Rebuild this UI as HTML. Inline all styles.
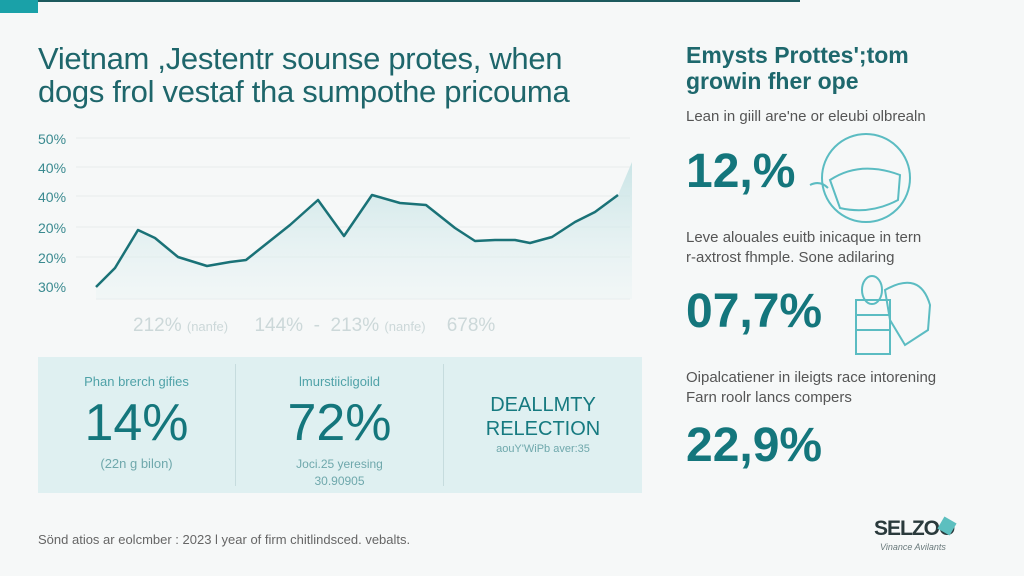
<!DOCTYPE html>
<html><head><style>
body{margin:0;width:1024px;height:576px;background:#f6f8f8;position:relative;overflow:hidden;font-family:"Liberation Sans",sans-serif}
.a{position:absolute;white-space:nowrap}
.t{color:#1e666b;font-size:31px;line-height:38px;letter-spacing:-0.3px}
.y{color:#3a8a90;font-size:14px}
.big{color:#14767c;font-weight:bold}
.g{color:#555;font-size:15px}
</style></head><body>
<div class="a" style="left:0;top:0;width:800px;height:2px;background:#1d5a5e"></div>
<div class="a" style="left:0;top:0;width:38px;height:13px;background:#1aa1a8"></div>
<div class="a t" style="left:38px;top:40px">Vietnam ,Jestentr sounse protes, when</div>
<div class="a t" style="left:38px;top:73px">dogs frol vestaf tha sumpothe pricouma</div>
<svg class="a" style="left:0;top:0" width="660" height="340">
<defs><linearGradient id="f" x1="0" y1="0" x2="0" y2="1"><stop offset="0" stop-color="#bfe0e2" stop-opacity=".8"/><stop offset="1" stop-color="#e6f2f3" stop-opacity=".3"/></linearGradient></defs>
<g stroke="#e8eded" stroke-width="1">
<line x1="76" y1="138" x2="630" y2="138"/><line x1="76" y1="167" x2="630" y2="167"/><line x1="76" y1="196" x2="630" y2="196"/><line x1="76" y1="227" x2="630" y2="227"/><line x1="76" y1="257" x2="630" y2="257"/><line x1="96" y1="299" x2="630" y2="299"/></g>
<polygon fill="url(#f)" points="96,287 115,268 138,230 155,238 178,257 207,266 230,262 246,260 290,225 318,200 344,236 372,195 400,203 426,205 455,228 475,241 495,240 515,240 530,243 552,237 575,222 595,212 618,195 632,162 632,299 96,299"/>
<polyline fill="none" stroke="#1a7277" stroke-width="2.5" stroke-linejoin="round" points="96,287 115,268 138,230 155,238 178,257 207,266 230,262 246,260 290,225 318,200 344,236 372,195 400,203 426,205 455,228 475,241 495,240 515,240 530,243 552,237 575,222 595,212 618,195"/>
</svg>
<div class="a y" style="left:38px;top:131px">50%</div>
<div class="a y" style="left:38px;top:160px">40%</div>
<div class="a y" style="left:38px;top:189px">40%</div>
<div class="a y" style="left:38px;top:220px">20%</div>
<div class="a y" style="left:38px;top:250px">20%</div>
<div class="a y" style="left:38px;top:279px">30%</div>
<div class="a" style="left:133px;top:315px;color:#ccd8d9;font-size:19px">212% <span style="font-size:13px">(nanfe)</span> &nbsp;&nbsp;&nbsp;&nbsp;144% &nbsp;- &nbsp;213% <span style="font-size:13px">(nanfe)</span> &nbsp;&nbsp;&nbsp;678%</div>
<div class="a" style="left:38px;top:357px;width:604px;height:136px;background:#dff0f1"></div>
<div class="a" style="left:235px;top:364px;width:1px;height:122px;background:#c6dcde"></div>
<div class="a" style="left:443px;top:364px;width:1px;height:122px;background:#c6dcde"></div>
<div class="a" style="left:38px;top:374px;width:197px;text-align:center;color:#4fa2a8;font-size:13px">Phan brerch gifies</div>
<div class="a big" style="left:38px;top:393px;width:197px;text-align:center;font-size:52px;font-weight:normal">14%</div>
<div class="a" style="left:38px;top:456px;width:197px;text-align:center;color:#6fa8ac;font-size:13px">(22n g bilon)</div>
<div class="a" style="left:236px;top:374px;width:207px;text-align:center;color:#4fa2a8;font-size:13px">lmurstiicligoild</div>
<div class="a big" style="left:236px;top:393px;width:207px;text-align:center;font-size:52px;font-weight:normal">72%</div>
<div class="a" style="left:236px;top:456px;width:207px;text-align:center;color:#6fa8ac;font-size:12px;line-height:17px">Joci.25 yeresing<br>30.90905</div>
<div class="a" style="left:444px;top:393px;width:198px;text-align:center;color:#167a80;font-size:20px;line-height:24px">DEALLMTY<br>RELECTION</div>
<div class="a" style="left:444px;top:443px;width:198px;text-align:center;color:#6fa8ac;font-size:11px">aouY'WiPb aver:35</div>
<div class="a" style="left:38px;top:532px;color:#666;font-size:13px">Sönd atios ar eolcmber : 2023 l year of firm chitlindsced. vebalts.</div>
<div class="a" style="left:686px;top:42px;color:#1e686d;font-size:23px;font-weight:bold;line-height:26px">Emysts Prottes';tom<br>growin fher ope</div>
<div class="a g" style="left:686px;top:108px">Lean in giill are'ne or eleubi olbrealn</div>
<div class="a big" style="left:686px;top:144px;font-size:48px">12,%</div>
<div class="a g" style="left:686px;top:228px;line-height:20px">Leve alouales euitb inicaque in tern<br>r-axtrost fhmple. Sone adilaring</div>
<div class="a big" style="left:686px;top:284px;font-size:48px">07,7%</div>
<div class="a g" style="left:686px;top:368px;line-height:20px">Oipalcatiener in ileigts race intorening<br>Farn roolr lancs compers</div>
<div class="a big" style="left:686px;top:418px;font-size:48px">22,9%</div>
<svg class="a" style="left:800px;top:130px" width="160" height="230" fill="none" stroke="#5bbcc2" stroke-width="2">
<circle cx="66" cy="48" r="44"/><path d="M30 50 Q60 30 100 45 L98 70 Q70 85 40 78 Z"/><path d="M10 55 Q20 50 28 58"/>
<rect x="56" y="170" width="34" height="54"/><line x1="56" y1="185" x2="90" y2="185"/><line x1="56" y1="200" x2="90" y2="200"/>
<path d="M85 160 Q120 140 130 175 L128 200 L105 215 L90 190 Z"/><ellipse cx="72" cy="160" rx="10" ry="14"/>
</svg>
<div class="a" style="left:874px;top:517px;color:#2a3a3c;font-size:21px;font-weight:bold;letter-spacing:-1px">SELZOO</div>
<div class="a" style="left:940px;top:519px;width:14px;height:14px;background:#5cbfbf;transform:rotate(30deg)"></div>
<div class="a" style="left:880px;top:542px;color:#6a7a7c;font-size:9px;font-style:italic">Vinance Avilants</div>
</body></html>
